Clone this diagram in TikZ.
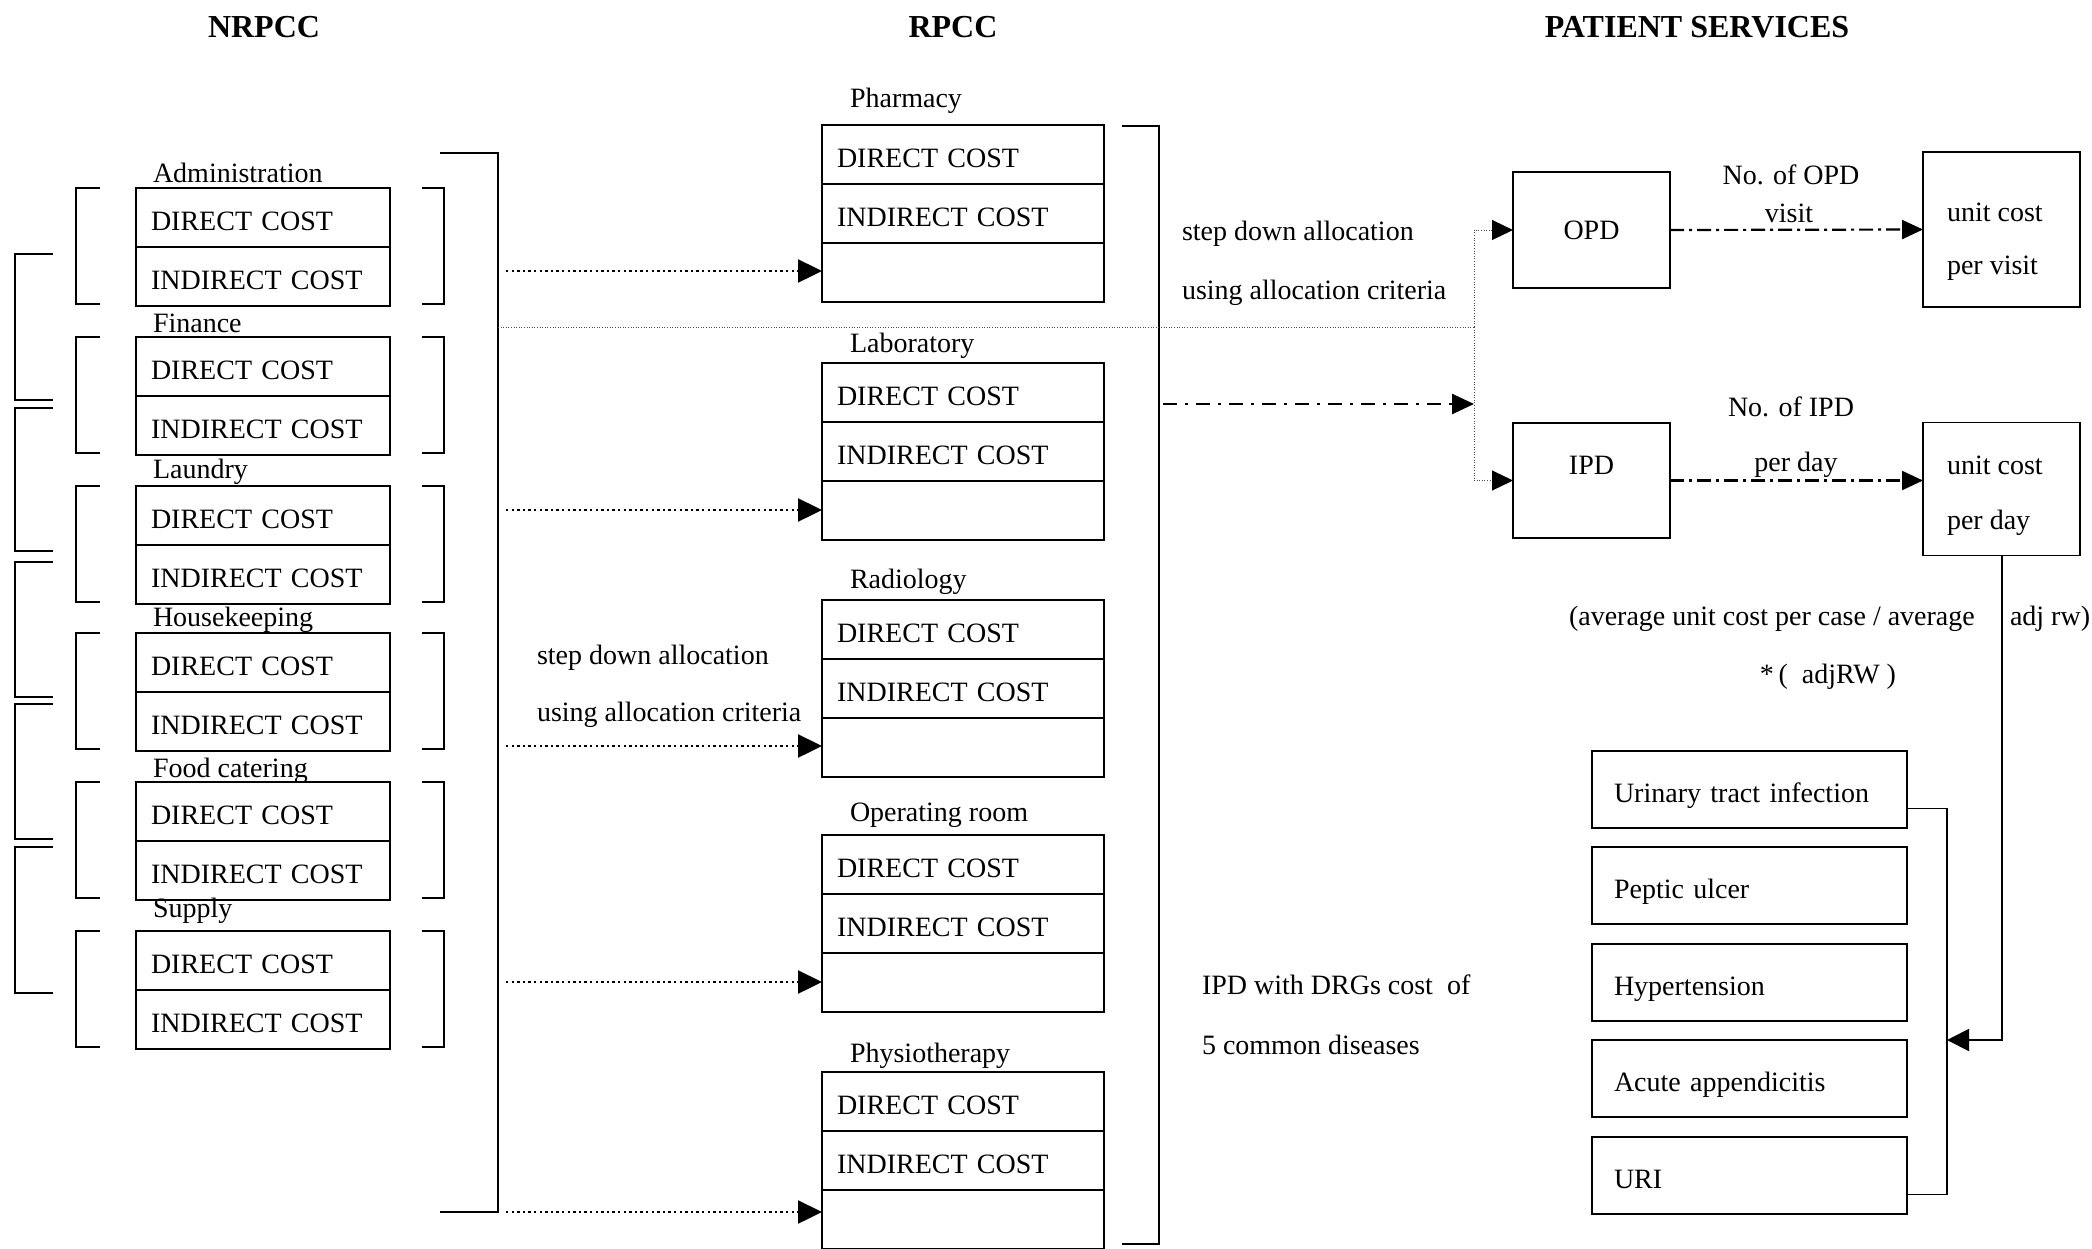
\documentclass[tikz,border=0pt]{standalone}
\usepackage{fontspec}
\setmainfont{Liberation Serif}
\usetikzlibrary{arrows.meta,calc}
\begin{document}
\begin{tikzpicture}[x=0.5pt,y=-0.5pt,
  every node/.style={font=\fontsize{14}{16.8}\selectfont, inner sep=0pt, outer sep=0pt},
  hdr/.style={font=\fontsize{16}{19}\selectfont\bfseries},
  ncell/.style={draw, line width=0.9pt, anchor=north west, minimum width=127pt, minimum height=29.5pt, text width=112pt, text height=12.5pt, text depth=0pt, inner xsep=7.5pt, align=left},
  rcell/.style={draw, line width=0.9pt, anchor=north west, minimum width=141pt, minimum height=29.5pt, text width=126pt, text height=12.5pt, text depth=0pt, inner xsep=7.5pt, align=left},
  pbox/.style={draw, line width=0.9pt},
  dcell/.style={draw, line width=0.9pt, anchor=north west, minimum width=157.5pt, minimum height=38.5pt, text width=135.5pt, text height=12.5pt, text depth=0pt, inner xsep=11pt, align=left},
  brk/.style={line width=0.9pt},
  bigb/.style={line width=1.2pt},
  dotarr/.style={line width=1.2pt, dash pattern=on 1.2pt off 1.6pt, -{Triangle[length=12pt,width=11.5pt]}},
  thindot/.style={line width=0.5pt, gray!60!black, dash pattern=on 0.5pt off 0.8pt},
  thinarr/.style={thindot, -{Triangle[length=10.5pt,width=10pt,color=black]}},
  ddarr/.style={line width=1.3pt, dash pattern=on 7pt off 4pt on 1.5pt off 4pt, -{Triangle[length=11pt,width=10pt]}},
  ddarrb/.style={line width=1.1pt, dash pattern=on 7pt off 2.5pt on 1.5pt off 2.5pt, -{Triangle[length=10.5pt,width=9.5pt]}},
  solidarr/.style={line width=1pt, -{Triangle[length=11pt,width=11pt]}}
]
\useasboundingbox (0,0) rectangle (2092,1248);

% headers
\node[hdr] (h1) at (264,27) {NRPCC};
\node[hdr] (h2) at (953,27) {RPCC};
\node[hdr] (h3) at (1697,27) {PATIENT SERVICES};

% NRPCC boxes
\foreach \n/\l/\t/\b in {adm/Administration/188/182, fin/Finance/337/332, lau/Laundry/486/478, hou/Housekeeping/633/626, foo/Food catering/782/777, sup/Supply/931/917} {
  \node[ncell] (\n d) at (136,\t) {DIRECT COST};
  \node[ncell] (\n i) at (136,\t+59) {INDIRECT COST};
  \node[anchor=base west] (\n l) at (153,\b) {\l};
  \draw[brk] (100,\t) -- (76,\t) -- (76,\t+116) -- (100,\t+116);
  \draw[brk] (422,\t) -- (444,\t) -- (444,\t+116) -- (422,\t+116);
}

% outer left brackets
\foreach \a/\b in {254/400, 408/551, 562/697, 704/839, 847/993}
  \draw[brk] (53,\a) -- (15,\a) -- (15,\b) -- (53,\b);

% big NRPCC bracket
\draw[bigb] (440,153) -- (498,153) -- (498,1212) -- (440,1212);

% RPCC boxes
\foreach \n/\l/\t/\b in {pha/Pharmacy/125/107, lab/Laboratory/363/352, rad/Radiology/600/588, opr/Operating room/835/821, phy/Physiotherapy/1072/1062} {
  \node[rcell] (\n d) at (822,\t) {DIRECT COST};
  \node[rcell] (\n i) at (822,\t+59) {INDIRECT COST};
  \node[rcell] (\n e) at (822,\t+118) {};
  \node[anchor=base west] (\n l) at (850,\b) {\l};
}

% NRPCC -> RPCC arrows
\foreach \n/\y in {pha/271, lab/510, rad/746, opr/982, phy/1212} {
  \coordinate (s\n) at (506,\y);
  \draw[dotarr] (s\n) -- (s\n -| \n e.west);
}

% middle label
\node[anchor=west] (sd1) at (537,658) {step down allocation};
\node[anchor=west] (sd2) at (537,715) {using allocation criteria};

% big RPCC bracket
\draw[bigb] (1122,126) -- (1159,126) -- (1159,1244) -- (1122,1244);

% right label
\node[anchor=west] (sd3) at (1182,234) {step down allocation};
\node[anchor=west] (sd4) at (1182,293) {using allocation criteria};

% patient services boxes
\node[pbox, minimum width=78.5pt, minimum height=58pt] (opd) at (1591.5,230) {OPD};
\node[pbox, minimum width=78.5pt, minimum height=57.5pt] (ipd) at (1591.5,480.5) {};
\node (ipdt) at (1591.5,465) {IPD};
\node[pbox, minimum width=78.5pt, minimum height=77.5pt] (upv) at (2001.5,229.5) {};
\node[anchor=west] (upv1) at (1947,212) {unit cost};
\node[anchor=west] (upv2) at (1947,268) {per visit};
\node[pbox, minimum width=78.5pt, minimum height=66.5pt] (upd) at (2001.5,489) {};
\node[anchor=west] (upd1) at (1947,465) {unit cost};
\node[anchor=west] (upd2) at (1947,523) {per day};

\node (nopd) at (1791,175) {No. of OPD};
\node (vis) at (1789,213) {visit};
\node (nipd) at (1791,407) {No. of IPD};
\node (pday) at (1796,465) {per day};

% thin dotted connectors
\coordinate (nb) at (498,327);
\coordinate (tj) at (1474,327);
\draw[thindot] (nb) -- (tj);
\draw[thinarr] (tj) |- (opd.west);
\draw[thinarr] (tj) |- (ipd.west);

% dash-dot from RPCC bracket
\coordinate (rs) at (1163,404);
\coordinate (vj) at (1474,404);
\draw[ddarr] (rs) -- (vj);

% OPD/IPD to unit cost
\draw[ddarrb] (opd.east) -- (upv.west);
\draw[ddarrb] (ipd.east) -- (ipd.east -| upd.west);

% formula text
\node[anchor=west] (avg1) at (1569,619) {(average unit cost per case / average};
\node[anchor=west] (avg2) at (2010,619) {adj rw)};
\node (adj) at (1828,677) {*\,(\ \ adjRW )};

% diseases
\foreach \n/\t/\l in {uti/751/Urinary tract infection, pep/847/Peptic ulcer, hyp/944/Hypertension, acu/1040/Acute appendicitis, uri/1137/URI}
  \node[dcell] (\n) at (1592,\t) {\l};

\draw[brk] ($(uti.east)+(0,19)$) -- ++(40,0) |- ($(uri.east)+(0,19)$);
\coordinate (dj) at (1947,1040);
\draw[solidarr] (upd.south) |- (dj);

\node[anchor=west] (drg1) at (1202,985) {IPD with DRGs cost\ \ of};
\node[anchor=west] (drg2) at (1202,1045) {5 common diseases};
\end{tikzpicture}
\end{document}
